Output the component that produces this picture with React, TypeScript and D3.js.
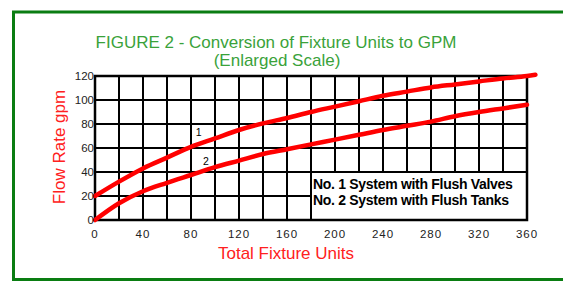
import React, { useEffect, useRef } from 'react';
import * as d3 from 'd3';

// fixture units
const unitsValves = [0, 20, 40, 60, 80, 100, 120, 140, 160, 180, 200, 220, 240, 260, 280, 300, 320, 340, 360, 367];
const gpmValves = [20, 32, 43, 52, 61, 68, 75, 80.5, 85, 90, 94.5, 99, 103.5, 107, 110.5, 113, 115.5, 118, 120, 121];
const unitsTanks = [0, 20, 40, 60, 80, 100, 120, 140, 160, 180, 200, 220, 240, 260, 280, 300, 320, 340, 360];
const gpmTanks = [0, 14, 24, 31, 37.5, 44, 49.5, 55, 59, 63, 67, 71, 75, 78.5, 82, 86.5, 90, 93, 96];

const xTicks = [0, 40, 80, 120, 160, 200, 240, 280, 320, 360];
const yTicks = [0, 20, 40, 60, 80, 100, 120];
const legendLines = ['No. 1 System with Flush Valves', 'No. 2 System with Flush Tanks'];

const W = 563;
const H = 282;
const margin = { left: 95, top: 76, right: 36, bottom: 62 };

const App = () => {
  const svgRef = useRef(null);

  useEffect(() => {
    const svg = d3.select(svgRef.current);
    svg.selectAll('*').remove();

    const x = d3.scaleLinear().domain([0, 360]).range([margin.left, W - margin.right]);
    const y = d3.scaleLinear().domain([0, 120]).range([H - margin.bottom, margin.top]);
    const font = 'Liberation Sans, Arial, sans-serif';

    // green frame (right side runs off the page)
    svg.append('path')
      .attr('d', `M${W + 5},12 H13.5 V279.5 H${W + 5}`)
      .attr('fill', 'none')
      .attr('stroke', '#0a7d12')
      .attr('stroke-width', 3);

    // title
    svg.append('text')
      .attr('x', 276).attr('y', 48)
      .attr('text-anchor', 'middle')
      .attr('font-family', font).attr('font-size', 17)
      .attr('fill', '#3aa23a')
      .text('FIGURE 2 - Conversion of Fixture Units to GPM');
    svg.append('text')
      .attr('x', 277).attr('y', 66)
      .attr('text-anchor', 'middle')
      .attr('font-family', font).attr('font-size', 17)
      .attr('fill', '#3aa23a')
      .text('(Enlarged Scale)');

    // grid
    const grid = svg.append('g').attr('stroke', '#000').attr('stroke-width', 2);
    d3.range(0, 361, 20).forEach(u => {
      grid.append('line')
        .attr('x1', x(u)).attr('x2', x(u))
        .attr('y1', y(0)).attr('y2', y(120));
    });
    d3.range(0, 121, 20).forEach(v => {
      grid.append('line')
        .attr('x1', x(0)).attr('x2', x(360))
        .attr('y1', y(v)).attr('y2', y(v));
    });

    // legend box over the lower right cells
    svg.append('rect')
      .attr('x', x(180)).attr('y', y(40))
      .attr('width', x(360) - x(180)).attr('height', y(0) - y(40))
      .attr('fill', '#fff')
      .attr('stroke', '#000').attr('stroke-width', 2);
    legendLines.forEach((t, i) => {
      svg.append('text')
        .attr('x', x(180) + 2).attr('y', y(40) + 17 + i * 16)
        .attr('font-family', font).attr('font-size', 14)
        .attr('font-weight', 'bold')
        .attr('letter-spacing', -0.3)
        .attr('fill', '#000')
        .text(t);
    });

    // outer frame, heavier
    svg.append('rect')
      .attr('x', x(0)).attr('y', y(120))
      .attr('width', x(360) - x(0)).attr('height', y(0) - y(120))
      .attr('fill', 'none')
      .attr('stroke', '#000').attr('stroke-width', 2.5);

    // curves
    const line = d3.line()
      .x(d => x(d[0]))
      .y(d => y(d[1]))
      .curve(d3.curveMonotoneX);

    svg.append('path')
      .datum(unitsValves.map((u, i) => [u, gpmValves[i]]))
      .attr('fill', 'none')
      .attr('stroke', '#ff0000')
      .attr('stroke-width', 4.5)
      .attr('stroke-linecap', 'round')
      .attr('d', line);

    svg.append('path')
      .datum(unitsTanks.map((u, i) => [u, gpmTanks[i]]))
      .attr('fill', 'none')
      .attr('stroke', '#ff0000')
      .attr('stroke-width', 4.5)
      .attr('stroke-linecap', 'round')
      .attr('d', line);

    // curve numbers
    svg.append('text')
      .attr('x', x(84)).attr('y', y(70))
      .attr('font-family', font).attr('font-size', 10.5)
      .attr('fill', '#000')
      .text('1');
    svg.append('text')
      .attr('x', x(90)).attr('y', y(46))
      .attr('font-family', font).attr('font-size', 10.5)
      .attr('fill', '#000')
      .text('2');

    // tick labels
    svg.append('g')
      .selectAll('text')
      .data(yTicks)
      .join('text')
      .attr('x', x(0) - 1)
      .attr('y', d => y(d) + 4)
      .attr('text-anchor', 'end')
      .attr('font-family', font).attr('font-size', 11.5)
      .attr('fill', '#222')
      .text(d => d);

    svg.append('g')
      .selectAll('text')
      .data(xTicks)
      .join('text')
      .attr('x', d => x(d))
      .attr('y', 238)
      .attr('text-anchor', 'middle')
      .attr('font-family', font).attr('font-size', 11.5)
      .attr('letter-spacing', 1)
      .attr('fill', '#222')
      .text(d => d);

    // axis titles
    svg.append('text')
      .attr('x', 286).attr('y', 259)
      .attr('text-anchor', 'middle')
      .attr('font-family', font).attr('font-size', 17)
      .attr('fill', '#ff2020')
      .text('Total Fixture Units');
    svg.append('text')
      .attr('transform', 'translate(65,147) rotate(-90)')
      .attr('text-anchor', 'middle')
      .attr('font-family', font).attr('font-size', 17)
      .attr('fill', '#ff2020')
      .text('Flow Rate gpm');
  }, []);

  return (
    <svg
      ref={svgRef}
      width={W}
      height={H}
      style={{ position: 'absolute', left: 0, top: 0, background: '#fff' }}
    ></svg>
  );
};

export default App;
